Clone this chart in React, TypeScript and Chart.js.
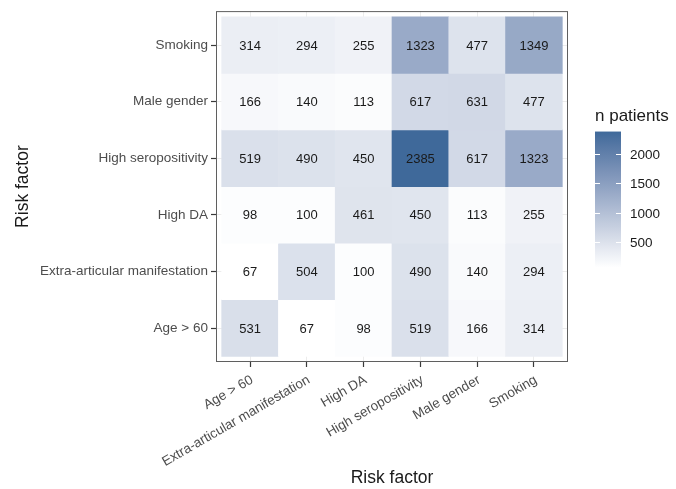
import React, { useEffect, useRef } from "react";
import { Chart, registerables } from "chart.js";

Chart.register(...registerables);

// Risk factors, used for both axes (bottom-to-top on y, left-to-right on x)
const factors = [
  "Age > 60",
  "Extra-articular manifestation",
  "High DA",
  "High seropositivity",
  "Male gender",
  "Smoking",
];

// Patient counts per row (y factor), one value per column (x factor)
const rowAge = [531, 67, 98, 519, 166, 314];
const rowExtraArticular = [67, 504, 100, 490, 140, 294];
const rowHighDA = [98, 100, 461, 450, 113, 255];
const rowSeropositivity = [519, 490, 450, 2385, 617, 1323];
const rowMale = [166, 140, 113, 617, 631, 477];
const rowSmoking = [314, 294, 255, 1323, 477, 1349];
const rows = [rowAge, rowExtraArticular, rowHighDA, rowSeropositivity, rowMale, rowSmoking];

const legendBreaks = [500, 1000, 1500, 2000];
const legendTitle = "n patients";
const axisTitle = "Risk factor";

const lowColour = "#FFFFFF";
const highColour = "#3F699A";
const FONT = "'Liberation Sans', Arial, sans-serif";

// --- colour ramp interpolated in CIELAB ---
const Xn = 0.95047, Yn = 1.0, Zn = 1.08883;
const toLin = (c: number) => {
  c /= 255;
  return c <= 0.04045 ? c / 12.92 : Math.pow((c + 0.055) / 1.055, 2.4);
};
const fromLin = (c: number) => {
  const v = c <= 0.0031308 ? 12.92 * c : 1.055 * Math.pow(c, 1 / 2.4) - 0.055;
  return Math.round(Math.max(0, Math.min(1, v)) * 255);
};
const fLab = (t: number) => (t > 0.008856 ? Math.cbrt(t) : 7.787 * t + 16 / 116);
const fInv = (t: number) => (t > 0.206893 ? t * t * t : (t - 16 / 116) / 7.787);

function hexToLab(hex: string): [number, number, number] {
  const r = toLin(parseInt(hex.slice(1, 3), 16));
  const g = toLin(parseInt(hex.slice(3, 5), 16));
  const b = toLin(parseInt(hex.slice(5, 7), 16));
  const X = (0.4124 * r + 0.3576 * g + 0.1805 * b) / Xn;
  const Y = (0.2126 * r + 0.7152 * g + 0.0722 * b) / Yn;
  const Z = (0.0193 * r + 0.1192 * g + 0.9505 * b) / Zn;
  const fx = fLab(X), fy = fLab(Y), fz = fLab(Z);
  return [116 * fy - 16, 500 * (fx - fy), 200 * (fy - fz)];
}

function labToRgb(L: number, a: number, b: number): string {
  const fy = (L + 16) / 116;
  const fx = fy + a / 500;
  const fz = fy - b / 200;
  const X = fInv(fx) * Xn, Y = fInv(fy) * Yn, Z = fInv(fz) * Zn;
  const r = 3.2406 * X - 1.5372 * Y - 0.4986 * Z;
  const g = -0.9689 * X + 1.8758 * Y + 0.0415 * Z;
  const bl = 0.0557 * X - 0.204 * Y + 1.057 * Z;
  return `rgb(${fromLin(r)},${fromLin(g)},${fromLin(bl)})`;
}

const labLow = hexToLab(lowColour);
const labHigh = hexToLab(highColour);
const allValues = rows.flat();
const vMin = Math.min(...allValues);
const vMax = Math.max(...allValues);

function fillFor(v: number): string {
  const t = Math.max(0, Math.min(1, (v - vMin) / (vMax - vMin)));
  return labToRgb(
    labLow[0] + (labHigh[0] - labLow[0]) * t,
    labLow[1] + (labHigh[1] - labLow[1]) * t,
    labLow[2] + (labHigh[2] - labLow[2]) * t
  );
}

// One tile per (row, column) pair; floating bars span one unit on y
const cells = rows.flatMap((row, r) =>
  row.map((v, c) => ({ x: c + 1, y: [r + 0.5, r + 1.5], v }))
);

const heatDecor = {
  id: "heatDecor",
  afterDatasetsDraw(chart: any) {
    const { ctx, chartArea: a } = chart;
    ctx.save();

    // panel border
    ctx.strokeStyle = "#5f5f5f";
    ctx.lineWidth = 1;
    ctx.strokeRect(a.left + 0.5, a.top + 0.5, a.right - a.left - 1, a.bottom - a.top - 1);

    // cell values
    const meta = chart.getDatasetMeta(0);
    ctx.fillStyle = "#1a1a1a";
    ctx.font = `13px ${FONT}`;
    ctx.textAlign = "center";
    ctx.textBaseline = "middle";
    meta.data.forEach((el: any, i: number) => {
      const p = el.getProps(["x", "y", "base"], true);
      ctx.fillText(String(cells[i].v), p.x, (p.y + p.base) / 2 + 1);
    });

    // colour bar legend
    const mid = (a.top + a.bottom) / 2;
    const barLeft = a.right + 27;
    const barW = 26;
    const barTop = mid - 55;
    const barBottom = mid + 81;
    const yFor = (v: number) => barBottom - ((v - vMin) / (vMax - vMin)) * (barBottom - barTop);

    const grad = ctx.createLinearGradient(0, barBottom, 0, barTop);
    for (let k = 0; k <= 20; k++) {
      grad.addColorStop(k / 20, fillFor(vMin + ((vMax - vMin) * k) / 20));
    }
    ctx.fillStyle = grad;
    ctx.fillRect(barLeft, barTop, barW, barBottom - barTop);

    ctx.strokeStyle = "#ffffff";
    ctx.lineWidth = 1;
    ctx.font = `13.5px ${FONT}`;
    ctx.textAlign = "left";
    ctx.fillStyle = "#1a1a1a";
    legendBreaks.forEach((b) => {
      const y = Math.round(yFor(b)) + 0.5;
      ctx.beginPath();
      ctx.moveTo(barLeft, y);
      ctx.lineTo(barLeft + 5, y);
      ctx.moveTo(barLeft + barW - 5, y);
      ctx.lineTo(barLeft + barW, y);
      ctx.stroke();
      ctx.fillText(String(b), barLeft + barW + 9, y + 1);
    });

    ctx.font = `17px ${FONT}`;
    ctx.fillStyle = "#1a1a1a";
    ctx.fillText(legendTitle, barLeft, barTop - 15);

    ctx.restore();
  },
};

const factorTicks = (scale: any) => {
  scale.ticks = factors.map((_, i) => ({ value: i + 1 }));
};

export default function App() {
  const canvasRef = useRef<HTMLCanvasElement | null>(null);

  useEffect(() => {
    if (!canvasRef.current) return;
    Chart.defaults.font.family = FONT;

    const chart = new Chart(canvasRef.current, {
      type: "bar",
      data: {
        datasets: [
          {
            data: cells as any,
            backgroundColor: cells.map((c) => fillFor(c.v)),
            borderWidth: 0,
            barPercentage: 1,
            categoryPercentage: 1,
          },
        ],
      },
      plugins: [heatDecor],
      options: {
        animation: false,
        responsive: false,
        devicePixelRatio: 1,
        layout: { padding: { left: 0, top: 10, right: 108, bottom: 0 } },
        plugins: {
          legend: { display: false },
          tooltip: { enabled: false },
        },
        scales: {
          x: {
            type: "linear",
            min: 0.4,
            max: 6.6,
            offset: false,
            afterBuildTicks: factorTicks,
            afterFit: (s: any) => {
              s.height = 127;
            },
            grid: {
              offset: false,
              color: "#ececec",
              lineWidth: 1,
              drawTicks: true,
              tickLength: 5,
              tickColor: "#3a3a3a",
              tickWidth: 1.2,
            },
            border: { display: false },
            ticks: {
              autoSkip: false,
              minRotation: 30,
              maxRotation: 30,
              padding: 5,
              labelOffset: 2,
              color: "#4d4d4d",
              font: { size: 13.5 },
              callback: (v: any) => factors[Math.round(Number(v)) - 1],
            },
            title: {
              display: true,
              text: axisTitle,
              color: "#1a1a1a",
              font: { size: 17.5 },
              padding: { top: 0, bottom: 0 },
            },
          },
          y: {
            type: "linear",
            min: 0.4,
            max: 6.6,
            beginAtZero: false,
            afterBuildTicks: factorTicks,
            afterFit: (s: any) => {
              s.width = 216;
            },
            grid: {
              color: "#ececec",
              lineWidth: 1,
              drawTicks: true,
              tickLength: 5,
              tickColor: "#3a3a3a",
              tickWidth: 1.2,
            },
            border: { display: false },
            ticks: {
              padding: 3,
              color: "#4d4d4d",
              font: { size: 13.5 },
              callback: (v: any) => factors[Math.round(Number(v)) - 1],
            },
            title: {
              display: true,
              text: axisTitle,
              color: "#1a1a1a",
              font: { size: 17.5 },
              padding: { top: 12.5, bottom: 0 },
            },
          },
        },
      },
    });

    return () => chart.destroy();
  }, []);

  return (
    <canvas
      ref={canvasRef}
      width={676}
      height={489}
      style={{ position: "absolute", left: 0, top: 0, width: 676, height: 489, display: "block", background: "#ffffff" }}
    />
  );
}
